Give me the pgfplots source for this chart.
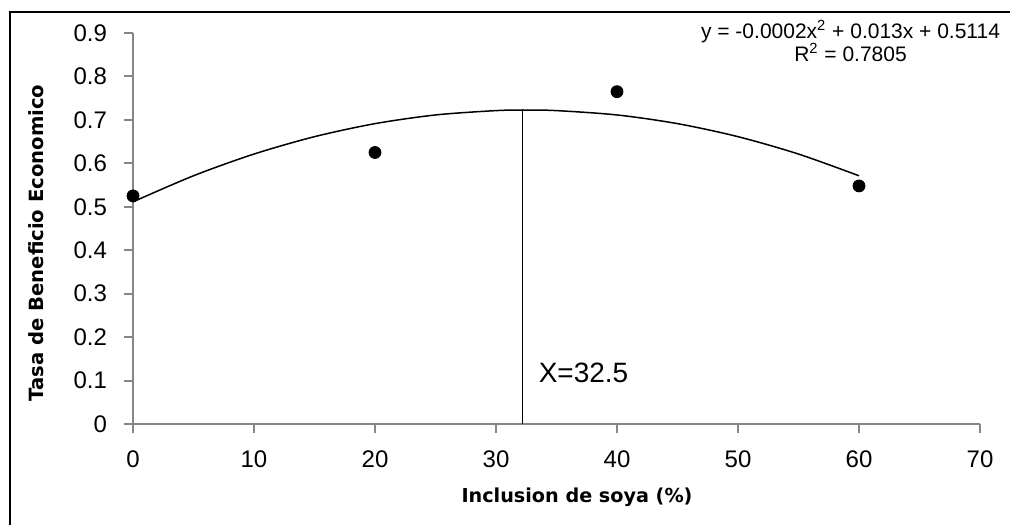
\documentclass[border=0pt]{standalone}
\usepackage{pgfplots}
\pgfplotsset{compat=1.18}
\usepackage{fontspec}
\setmainfont{Liberation Sans}
\newfontfamily\labfont{DejaVu Sans}
\definecolor{axgray}{HTML}{868686}
\begin{document}
\begin{tikzpicture}[x=0.5pt,y=0.5pt]
\useasboundingbox (0,0) rectangle (1010,525);
\draw[line width=1pt] (10,0) -- (10,513) -- (1010,513);
\begin{axis}[
  at={(66.5pt,50.5pt)}, anchor=south west,
  scale only axis, width=423.5pt, height=195.5pt,
  xmin=0, xmax=70, ymin=0, ymax=0.9,
  axis lines*=left,
  axis line style={draw=axgray, line width=1pt},
  tick style={draw=axgray, line width=1pt},
  tick align=outside, major tick length=4.5pt,
  xtick={0,10,20,30,40,50,60,70},
  xticklabels={0,10,20,30,40,50,60,70},
  ytick={0,0.1,0.2,0.3,0.4,0.5,0.6,0.7,0.8,0.9},
  yticklabels={0,0.1,0.2,0.3,0.4,0.5,0.6,0.7,0.8,0.9},
  ticklabel style={font=\fontsize{12}{14}\selectfont, text=black},
  xticklabel style={yshift=-5.5pt},
  yticklabel style={xshift=-5pt},
  clip=false,
]
% fitted trend line
\addplot[black, line width=0.75pt, smooth] coordinates {
  (0,0.5114) (5,0.5714) (10,0.6214) (15,0.6614) (20,0.6914) (25,0.7114)
  (30,0.7214) (32.5,0.7227) (35,0.7214) (40,0.7114) (45,0.6914)
  (50,0.6614) (55,0.6214) (60,0.5714)};
% observed points
\addplot[only marks, mark=*, mark size=3pt, mark options={fill=black, draw=black}] coordinates {
  (0,0.525) (20,0.625) (40,0.765) (60,0.548)};
% vertical line at optimum
\addplot[black, line width=0.75pt] coordinates {(32.2,0) (32.2,0.725)};
\node[anchor=west, font=\fontsize{14}{16}\selectfont, inner sep=0pt] at (axis cs:33.5,0.117) {X=32.5};
\node[anchor=north, font=\fontsize{10.5}{11.5}\selectfont, align=center, inner sep=0pt] at (axis cs:59.3,0.93)
  {y = -0.0002x\textsuperscript{2} + 0.013x + 0.5114\\R\textsuperscript{2} = 0.7805};
\end{axis}
\node[font=\labfont\bfseries\fontsize{9.6}{11}\selectfont] at (577,28) {Inclusion de soya (\%)};
\node[font=\labfont\bfseries\fontsize{9.8}{11}\selectfont, rotate=90] at (36,282) {Tasa de Beneficio Economico};
\end{tikzpicture}
\end{document}
